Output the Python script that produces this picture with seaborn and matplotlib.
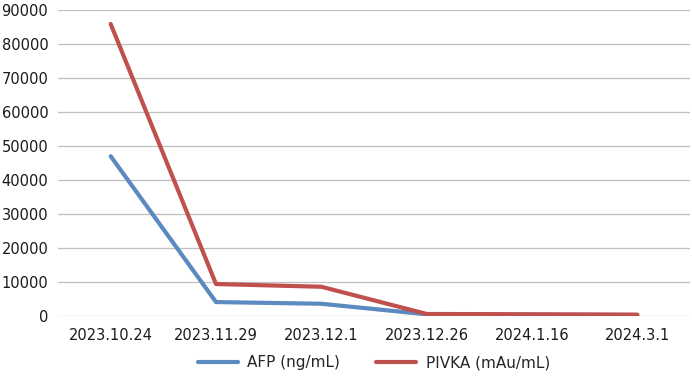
import numpy as np
import pandas as pd
import seaborn as sns
import matplotlib.pyplot as plt

dates = ["2023.10.24", "2023.11.29", "2023.12.1", "2023.12.26", "2024.1.16", "2024.3.1"]
afp = [47000, 4100, 3600, 500, 400, 300]
pivka = [85900, 9400, 8600, 600, 500, 400]

sns.set_theme(style="white")
plt.rcParams['font.family'] = ['DejaVu Sans']

df = pd.DataFrame({"date": dates * 2,
                   "value": afp + pivka,
                   "series": ["AFP (ng/mL)"] * len(dates) + ["PIVKA (mAu/mL)"] * len(dates)})

fig = plt.figure(figsize=(6.92, 3.77), dpi=100)
ax = fig.add_axes([58 / 692, 1 - 316 / 377, 632 / 692, 306 / 377])

sns.lineplot(data=df, x="date", y="value", hue="series", sort=False,
             palette=["#5A8AC0", "#C0504D"], linewidth=3, ax=ax, legend=True)

ax.set_xlim(-0.5, len(dates) - 0.5)
ax.set_ylim(0, 90000)
ax.set_yticks(np.arange(0, 90001, 10000))
ax.yaxis.grid(True, color="#BFBFBF", linewidth=0.9)
ax.set_axisbelow(True)
for s in ax.spines.values():
    s.set_visible(False)
ax.set_xlabel("")
ax.set_ylabel("")
ax.tick_params(axis="both", length=0, labelsize=10.5, colors="#1a1a1a")
ax.tick_params(axis="x", pad=9)
ax.tick_params(axis="y", pad=7)

ax.legend(loc="upper center", bbox_to_anchor=(0.5, -0.084), ncol=2, frameon=False,
          fontsize=11, handlelength=2.6, handletextpad=0.65, columnspacing=2.35,
          title=None)

fig.savefig("out.png", dpi=100)
